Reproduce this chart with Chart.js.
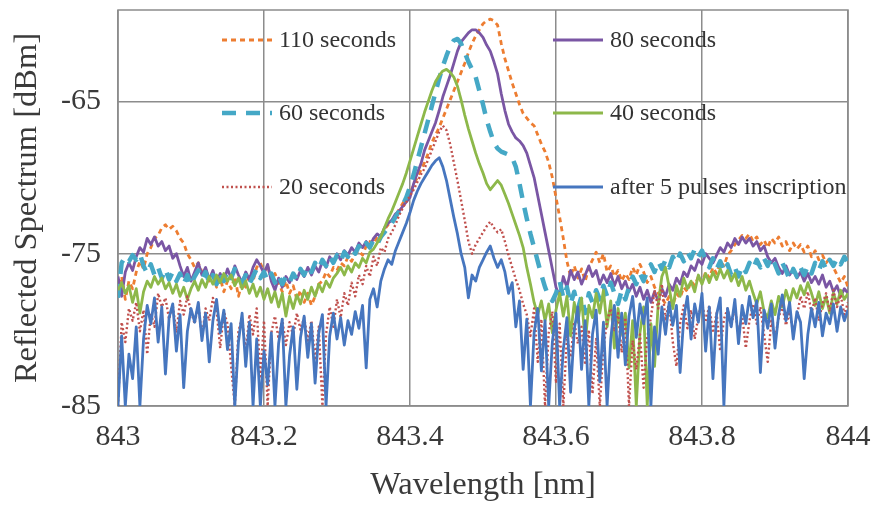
<!DOCTYPE html>
<html lang="en">
<head>
<meta charset="UTF-8">
<title>Reflected Spectrum vs Wavelength</title>
<script src="https://cdn.jsdelivr.net/npm/chart.js"></script>
<style>
    html, body { margin: 0; padding: 0; background: #fff; }
    #wrap { width: 872px; height: 505px; }
</style>
</head>
<body>
<div id="wrap"><canvas id="spectrum" width="872" height="505"></canvas></div>
<script>
// wavelength grid [nm], 0.005 nm steps
const wavelength = [
    843.000, 843.005, 843.010, 843.015, 843.020, 843.025, 843.030, 843.035, 843.040, 843.045,
    843.050, 843.055, 843.060, 843.065, 843.070, 843.075, 843.080, 843.085, 843.090, 843.095,
    843.100, 843.105, 843.110, 843.115, 843.120, 843.125, 843.130, 843.135, 843.140, 843.145,
    843.150, 843.155, 843.160, 843.165, 843.170, 843.175, 843.180, 843.185, 843.190, 843.195,
    843.200, 843.205, 843.210, 843.215, 843.220, 843.225, 843.230, 843.235, 843.240, 843.245,
    843.250, 843.255, 843.260, 843.265, 843.270, 843.275, 843.280, 843.285, 843.290, 843.295,
    843.300, 843.305, 843.310, 843.315, 843.320, 843.325, 843.330, 843.335, 843.340, 843.345,
    843.350, 843.355, 843.360, 843.365, 843.370, 843.375, 843.380, 843.385, 843.390, 843.395,
    843.400, 843.405, 843.410, 843.415, 843.420, 843.425, 843.430, 843.435, 843.440, 843.445,
    843.450, 843.455, 843.460, 843.465, 843.470, 843.475, 843.480, 843.485, 843.490, 843.495,
    843.500, 843.505, 843.510, 843.515, 843.520, 843.525, 843.530, 843.535, 843.540, 843.545,
    843.550, 843.555, 843.560, 843.565, 843.570, 843.575, 843.580, 843.585, 843.590, 843.595,
    843.600, 843.605, 843.610, 843.615, 843.620, 843.625, 843.630, 843.635, 843.640, 843.645,
    843.650, 843.655, 843.660, 843.665, 843.670, 843.675, 843.680, 843.685, 843.690, 843.695,
    843.700, 843.705, 843.710, 843.715, 843.720, 843.725, 843.730, 843.735, 843.740, 843.745,
    843.750, 843.755, 843.760, 843.765, 843.770, 843.775, 843.780, 843.785, 843.790, 843.795,
    843.800, 843.805, 843.810, 843.815, 843.820, 843.825, 843.830, 843.835, 843.840, 843.845,
    843.850, 843.855, 843.860, 843.865, 843.870, 843.875, 843.880, 843.885, 843.890, 843.895,
    843.900, 843.905, 843.910, 843.915, 843.920, 843.925, 843.930, 843.935, 843.940, 843.945,
    843.950, 843.955, 843.960, 843.965, 843.970, 843.975, 843.980, 843.985, 843.990, 843.995,
    844.000
];

const xTicks = [843, 843.2, 843.4, 843.6, 843.8, 844];
const xTickLabels = ['843', '843.2', '843.4', '843.6', '843.8', '844'];
const yTicks = [-85, -75, -65];
const yTickLabels = ['-85', '-75', '-65'];

const seriesNames = ['110 seconds', '80 seconds', '60 seconds', '40 seconds', '20 seconds', 'after 5 pulses inscription'];

// reflected power [dBm] for each exposure time
const s110 = [
    -77, -76.5, -78, -76.8, -77.3, -76.2, -75.5, -76, -75, -74.6,
    -74, -73.8, -73.3, -73.1, -73.4, -73.2, -73.5, -74, -74.3, -75,
    -75.4, -75.9, -75.6, -76.2, -76, -76.8, -76.4, -77.2, -76.6, -77.5,
    -76.8, -77.3, -76.5, -77.8, -76.9, -77.2, -76.3, -76.8, -75.9, -75.6,
    -76.2, -75.8, -76.7, -76.3, -76.9, -77.5, -76.8, -77.6, -77.1, -78,
    -77.4, -78.2, -77.6, -78.4, -77.8, -77, -76.8, -76.2, -76.5, -75.9,
    -76.1, -75.6, -75.8, -75.2, -75.5, -75, -74.8, -75.1, -74.5, -74.2,
    -74.4, -73.9, -73.8, -73.4, -73.1, -72.9, -72.5, -72.1, -71.7, -71.3,
    -71, -70.5, -70, -69.5, -69, -68.4, -67.7, -67.2, -66.7, -66.1,
    -65.5, -64.9, -64.3, -63.7, -63.1, -62.5, -61.8, -61.2, -60.7, -60.3,
    -59.9, -59.7, -59.6, -59.7, -60, -61.2, -62.2, -63, -63.8, -64.5,
    -65.2, -65.8, -66.1, -66.4, -66.6, -67.2, -67.8, -68.3, -69, -70,
    -71.3, -72.6, -74, -75.5, -76.5, -75.8, -76.6, -76, -76.8, -75.9,
    -75.4, -74.9, -75.6, -75, -76.2, -75.8, -76.5, -76.1, -76.8, -76.3,
    -76.7, -75.9, -76.4, -75.7, -76.2, -76.9, -76.5, -77.2, -77.6, -77.9,
    -78.3, -77.8, -78.4, -77.6, -77.9, -77.2, -77.5, -76.8, -77.1, -76.5,
    -76.9, -76.2, -76.6, -75.9, -76.3, -75.5, -75.8, -75.1, -74.8, -74.4,
    -74.1, -73.8, -74, -73.7, -74.2, -73.9, -74.4, -74.1, -74.6, -74,
    -74.3, -73.9, -74.5, -74.2, -74.8, -74.3, -74.7, -74.4, -74.9, -74.5,
    -75.2, -74.8, -75.4, -75.1, -75.6, -75.3, -75.9, -76.4, -76.9, -76.5,
    -77.2
];
const s80 = [
    -76.5, -77.8, -76.2, -75.6, -76.1, -75.2, -74.6, -74.9, -74, -74.4,
    -73.9, -74.5, -74.2, -74.8, -74.5, -75.3, -75, -75.8, -76.5, -75.9,
    -76.8, -76.2, -75.6, -76.4, -75.9, -76.7, -76.1, -76.9, -76.3, -76.8,
    -76, -76.6, -75.8, -76.4, -76.9, -76.2, -76.7, -75.9, -75.4, -75.8,
    -76.3, -75.7, -76.8, -77.4, -76.6, -77.2, -76.5, -76.9, -76.3, -76.7,
    -76.1, -76.5, -75.9, -76.4, -75.8, -76.2, -75.5, -75.9, -75.2, -75.6,
    -75, -75.4, -74.8, -75.1, -74.6, -74.9, -74.3, -74.6, -74.2, -74.5,
    -74, -73.7, -73.9, -73.3, -73, -72.8, -72.4, -72.2, -71.9, -71.6,
    -71.3, -70.4, -69.7, -69.1, -68.2, -67.6, -67, -66.4, -65.6, -64.7,
    -64, -63.3, -62.5, -61.7, -61.1, -60.8, -60.5, -60.3, -60.3, -60.5,
    -60.8, -61.3, -61.7, -62.4, -63.2, -64.5, -65.6, -66.5, -67, -67.4,
    -67.6, -67.9, -68.4, -69.2, -70, -71.2, -72.4, -73.6, -74.8, -76,
    -77.2, -77.8, -76.5, -77.2, -76.1, -76.7, -76.2, -77, -76.4, -75.8,
    -76.5, -76.1, -77, -76.4, -76.9, -76.3, -77.1, -76.5, -77.3, -76.8,
    -77.5, -77, -77.8, -77.2, -78, -77.4, -78.2, -77.5, -78.1, -77.3,
    -77.8, -77, -77.4, -76.6, -77, -76.2, -76.5, -75.8, -76.1, -75.4,
    -75.7, -75, -75.3, -75.6, -75.1, -74.6, -74.9, -74.3, -74.6, -74,
    -74.4, -73.9, -74.3, -74, -74.5, -74.2, -74.8, -74.5, -75.2, -75.6,
    -75.3, -75.9, -76.3, -75.8, -76.4, -76, -76.6, -76.2, -76.8, -76.3,
    -76.9, -76.5, -77, -76.4, -77.2, -76.8, -77.5, -77.1, -77.8, -77.3,
    -77.6
];
const s60 = [
    -77.9, -75.6, -75.2, -75.5, -75.1, -75.4, -75, -75.8, -76.3, -75.7,
    -76.4, -75.9, -76.6, -76, -76.7, -76.2, -76.8, -76.3, -77, -76.4,
    -77.1, -76.5, -76.1, -76.7, -76.2, -76.9, -76.4, -77, -76.3, -76.8,
    -76.1, -76.6, -76, -76.5, -76.9, -76.4, -77, -76.5, -76, -76.6,
    -76.2, -76.8, -76.3, -76.9, -76.4, -77, -76.5, -76.9, -76.3, -76.7,
    -76, -76.4, -75.8, -76.2, -75.6, -76, -75.4, -75.8, -75.2, -75.6,
    -75.1, -75.5, -74.9, -75.2, -74.7, -75, -74.5, -74.8, -74.3, -74.6,
    -74.1, -74.4, -73.9, -73.6, -73.3, -73, -72.6, -72.2, -71.8, -71.3,
    -70.6, -69.8, -68.9, -68, -67.1, -66.2, -65.3, -64.4, -63.5, -62.7,
    -62, -61.4, -61, -60.9, -61.2, -61.8, -62.4, -62.9, -63.4, -64.3,
    -65.2, -66.2, -67, -67.7, -68.1, -68.3, -68.4, -68.5, -68.7, -69.3,
    -70.4, -71.6, -72.7, -73.7, -74.6, -75.5, -76.4, -77.2, -77.8, -78.1,
    -77.6, -76.8, -77.9, -77.2, -78.3, -77.5, -78.6, -77.8, -78.9, -77.6,
    -78.2, -77.4, -78, -77.1, -77.8, -76.9, -77.6, -78.3, -77.4, -78,
    -77.2, -76.5, -77, -76.3, -76.8, -76.1, -75.7, -76.2, -75.5, -76,
    -75.4, -75.9, -75.2, -75.6, -75, -75.5, -74.9, -75.3, -74.7, -75.2,
    -74.8, -75.4, -75.9, -75.3, -76, -75.5, -76.2, -75.7, -76.4, -75.9,
    -76.5, -75.8, -76.2, -75.6, -76, -75.4, -75.9, -75.3, -75.8, -75.2,
    -75.7, -76.3, -75.6, -76.1, -76.7, -76, -76.5, -75.9, -76.4, -75.8,
    -76.3, -75.6, -76.1, -75.5, -76, -75.4, -75.8, -75.3, -75.7, -75.2,
    -75.6
];
const s40 = [
    -77.4, -76.9, -77.6, -77.1, -78.2, -77.3, -78.9, -77.5, -76.8, -77.2,
    -76.5, -77, -76.6, -77.3, -76.9, -77.6, -77, -77.8, -77.2, -78,
    -77.3, -76.8, -77.4, -76.7, -77.2, -76.5, -77, -76.4, -76.9, -76.3,
    -76.8, -76.4, -77.1, -76.6, -77.3, -76.8, -77.6, -77, -77.8, -77.2,
    -78, -77.3, -78.2, -77.5, -78.5, -77.6, -79.1, -77.8, -78.6, -77.7,
    -78.3, -77.4, -78, -77.2, -77.8, -77, -77.5, -76.8, -77.2, -76.6,
    -76.3, -75.9, -76.4, -75.8, -76.2, -75.6, -75.9, -75.3, -75.6, -74.9,
    -74.7, -74.3, -73.9, -73.3, -72.7, -72.2, -71.6, -71, -70.4, -69.7,
    -68.9, -68.1, -67.3, -66.5, -65.7, -65, -64.3, -63.7, -63.3, -63,
    -62.9, -63.1, -63.4, -64, -64.9, -65.9, -66.8, -67.6, -68.4, -69.1,
    -69.7, -70.4, -70.8, -70.5, -70.2, -70.5, -71.1, -71.7, -72.4, -73.1,
    -73.8, -74.6, -75.9, -77, -78.2, -79, -78.1, -79.4, -78.3, -80.2,
    -78.7, -77.6, -79.1, -77.8, -80.4, -78.2, -79.5, -77.9, -80.8, -78.4,
    -79.2, -77.6, -78.9, -77.4, -79.8, -78.1, -81.2, -78.6, -80.3, -78.9,
    -82.5, -79.4, -85, -80.2, -78.5, -85, -79.6, -82.4, -78.3, -76.5,
    -75.9, -77.2, -78.6, -77.1, -77.8, -76.6, -77.3, -76.8, -77.5, -76.4,
    -77, -76.3, -76.9, -76.2, -76.7, -76, -76.6, -76.1, -76.8, -76.3,
    -77.1, -76.5, -77.4, -76.8, -77.6, -78.3, -77.5, -78.8, -79.2, -78.1,
    -79, -77.8, -78.5, -77.4, -78.2, -77.3, -77.9, -77.1, -77.7, -76.9,
    -77.6, -78.4, -77.5, -78.6, -77.8, -78.9, -77.6, -78.3, -77.4, -78,
    -77.6
];
const s20 = [
    -85, -79.5, -80.8, -78.6, -79.4, -78.2, -80.1, -78.7, -81.6, -78.9,
    -79.8, -77.6, -78.5, -77.9, -79.3, -78.4, -80.2, -78.1, -79, -77.8,
    -78.8, -79.6, -78.3, -80.5, -78.6, -79.4, -77.9, -78.7, -81.2, -78.8,
    -79.6, -82.4, -85, -80.1, -79.2, -81.5, -79, -80.3, -78.6, -83.2,
    -79.4, -85, -80.2, -79.1, -80.6, -79.3, -81, -79.5, -80.4, -78.9,
    -80, -79.2, -80.7, -79.4, -82, -79.8, -85, -80.3, -78.5, -79.8,
    -78, -79.2, -77.6, -78.4, -76.9, -77.8, -76.4, -77, -75.8, -76.5,
    -75.2, -75.8, -74.6, -74.9, -74, -73.6, -73.1, -72.5, -72, -71.6,
    -71.2, -70.8, -70.3, -69.8, -69.4, -68.8, -68.2, -67.6, -67, -66.6,
    -66.9, -67.8, -69, -70.2, -71.5, -72.8, -74.2, -75, -74.4, -74,
    -73.6, -73.2, -72.9, -73.3, -73.6, -73.4, -74.2, -75.1, -75.9, -76.7,
    -77.4, -78.3, -79, -80.4, -78.6, -82.1, -79.3, -85, -80.2, -78.8,
    -83.5, -79.6, -85, -80.4, -81.8, -79.5, -80.9, -79.8, -82.3, -80,
    -84.2, -80.6, -85, -81.2, -79.4, -78.6, -80.1, -78.9, -81.5, -79.2,
    -85, -80.7, -82.6, -80.3, -83.8, -80.5, -79.2, -77.4, -78.6, -77,
    -79.3, -78.2, -80.8, -82.4, -79.6, -78.4, -79.9, -78.7, -80.6, -79.1,
    -78.2, -79.5, -78.4, -80.2, -78.9, -81.4, -79.3, -78.6, -79.8, -78.5,
    -80.4, -79, -81.2, -79.4, -78.3, -79.6, -78.5, -80.3, -82.1, -79.4,
    -80.6, -79.2, -78.4, -79.7, -78.8, -80.2, -79.1, -77.8, -78.6, -77.5,
    -78.9, -77.9, -79.4, -78.3, -77.6, -78.8, -77.4, -78.5, -77.7, -79,
    -78.2
];
const sAfter5 = [
    -85, -80.4, -85, -81.6, -83.2, -79.8, -85, -80.6, -78.4, -79.6,
    -77.9, -80.8, -78.5, -82.9, -79.2, -78.3, -81.4, -79, -83.8, -80.1,
    -78.6, -79.5, -78.2, -80.7, -78.9, -82.1, -79.4, -78, -80.2, -78.7,
    -81.3, -79.6, -85, -80.8, -78.9, -82.4, -79.5, -85, -80.6, -85,
    -81.4, -83.6, -80.2, -85, -80.9, -79.3, -85, -81.7, -79.8, -83.9,
    -80.5, -79.1, -81.8, -79.6, -83.5, -80.2, -79, -85, -80.4, -78.9,
    -80.6, -79.2, -81, -79.4, -80.3, -78.8, -79.9, -78.4, -82.5, -78,
    -77.3, -78.5, -76.8, -76, -75.4, -75.7, -74.8, -74.2, -73.6, -73,
    -72.3, -71.5, -70.9, -70.4, -70, -69.6, -69.2, -68.9, -68.7, -69.3,
    -70.2, -71.4, -72.6, -73.7, -75, -75.9, -77.9, -76.4, -76.8, -75.9,
    -75.4, -74.9, -74.5, -75.3, -75.9, -75.4, -76.2, -77.6, -76.9, -79.8,
    -78.1, -82.6, -79.3, -85, -80.2, -78.6, -82.7, -79.4, -85, -80.8,
    -78.9, -85, -81.3, -79.2, -84.1, -80, -78.5, -82.6, -79.4, -85,
    -80.3, -78.7, -83.4, -79.5, -85, -80.6, -78.4, -81.8, -78.9, -82.3,
    -79.1, -77.8, -80.5, -78.3, -79.6, -77.9, -85, -79.8, -81.6, -78.5,
    -80.3, -78.2, -79.7, -78.4, -82.8, -79.2, -77.8, -80.6, -78.3, -79.5,
    -77.6, -81.4, -78.5, -83.2, -79, -77.9, -85, -78.6, -79.8, -78,
    -80.9, -78.4, -79.6, -77.8, -79.2, -78.1, -82.8, -78.7, -79.9, -78.3,
    -81.2, -79, -77.7, -79.4, -78.2, -80.6, -78.8, -79.5, -83.2, -80.3,
    -78.6, -79.8, -78.2, -80.4, -78.9, -79.6, -78.3, -80.1, -78.5, -79.4,
    -78.7
];

const seriesValues = [s110, s80, s60, s40, s20, sAfter5];
seriesValues.forEach((arr, i) => {
    if (arr.length !== wavelength.length) {
        throw new Error(seriesNames[i] + ' has ' + arr.length + ' points, expected ' + wavelength.length);
    }
});

// line styles, same order as seriesNames
const lineStyles = [
    { color: '#ED7D31', width: 2.8, dash: [5, 4], order: 5 },
    { color: '#7A56A4', width: 2.8, dash: [], order: 4 },
    { color: '#45A8C6', width: 4.5, dash: [14, 10], order: 3 },
    { color: '#8DB84A', width: 2.8, dash: [], order: 2 },
    { color: '#C0504D', width: 2.4, dash: [2, 2.5], order: 1 },
    { color: '#4676BF', width: 2.8, dash: [], order: 0 }
];

const datasets = seriesNames.map((name, i) => ({
    label: name,
    data: wavelength.map((x, j) => ({ x: x, y: seriesValues[i][j] })),
    borderColor: lineStyles[i].color,
    borderWidth: lineStyles[i].width,
    borderDash: lineStyles[i].dash,
    borderJoinStyle: 'round',
    borderCapStyle: 'butt',
    pointRadius: 0,
    tension: 0,
    fill: false,
    order: lineStyles[i].order
}));

// plot area frame drawn under the curves
const frame = {
    id: 'frame',
    beforeDatasetsDraw(chart) {
        const a = chart.chartArea;
        const ctx = chart.ctx;
        ctx.save();
        ctx.strokeStyle = '#8c8c8c';
        ctx.lineWidth = 1.5;
        ctx.strokeRect(a.left, a.top, a.right - a.left, a.bottom - a.top);
        ctx.restore();
    }
};

// legend in two columns inside the plot
const insideLegend = {
    id: 'insideLegend',
    afterDatasetsDraw(chart) {
        const ctx = chart.ctx;
        const cols = [222, 553];
        const rows = [40, 113, 187];
        ctx.save();
        ctx.font = '24px "Liberation Serif"';
        ctx.fillStyle = '#333333';
        ctx.textBaseline = 'middle';
        seriesNames.forEach((name, i) => {
            const x = cols[i % 2];
            const y = rows[Math.floor(i / 2)];
            ctx.strokeStyle = lineStyles[i].color;
            ctx.lineWidth = lineStyles[i].width;
            ctx.setLineDash(lineStyles[i].dash);
            ctx.beginPath();
            ctx.moveTo(x, y);
            ctx.lineTo(x + 50, y);
            ctx.stroke();
            ctx.fillText(name, x + 57, y + 1);
        });
        ctx.restore();
    }
};

Chart.defaults.font.family = '"Liberation Serif", "Times New Roman", serif';
Chart.defaults.color = '#3a3a3a';

new Chart(document.getElementById('spectrum'), {
    type: 'line',
    data: { datasets: datasets },
    options: {
        responsive: false,
        animation: false,
        devicePixelRatio: 1,
        layout: { padding: { top: 10, right: 24, left: 0, bottom: 0 } },
        plugins: {
            legend: { display: false },
            tooltip: { enabled: false }
        },
        scales: {
            x: {
                type: 'linear',
                min: 843,
                max: 844,
                afterBuildTicks: (scale) => { scale.ticks = xTicks.map(v => ({ value: v })); },
                afterFit: (scale) => {
                    scale.height = 99;
                    scale.paddingLeft = 0;
                    scale.paddingRight = 0;
                },
                grid: { color: '#8c8c8c', lineWidth: 1.5, drawTicks: false },
                border: { display: false },
                ticks: {
                    font: { size: 30 },
                    padding: 13,
                    maxRotation: 0,
                    callback: (v, i) => xTickLabels[i]
                },
                title: {
                    display: true,
                    text: 'Wavelength [nm]',
                    font: { size: 32.5 },
                    padding: { top: 1, bottom: 0 }
                }
            },
            y: {
                type: 'linear',
                min: -85,
                max: -59,
                afterBuildTicks: (scale) => { scale.ticks = yTicks.map(v => ({ value: v })); },
                afterFit: (scale) => {
                    scale.width = 118;
                    scale.paddingTop = 0;
                    scale.paddingBottom = 0;
                },
                grid: { color: '#8c8c8c', lineWidth: 1.5, drawTicks: false },
                border: { display: false },
                ticks: {
                    font: { size: 30 },
                    padding: 17,
                    callback: (v, i) => yTickLabels[i]
                },
                title: {
                    display: true,
                    text: 'Reflected Spectrum [dBm]',
                    font: { size: 32.5 },
                    padding: { top: 8, bottom: 0 }
                }
            }
        }
    },
    plugins: [frame, insideLegend]
});
</script>
</body>
</html>
